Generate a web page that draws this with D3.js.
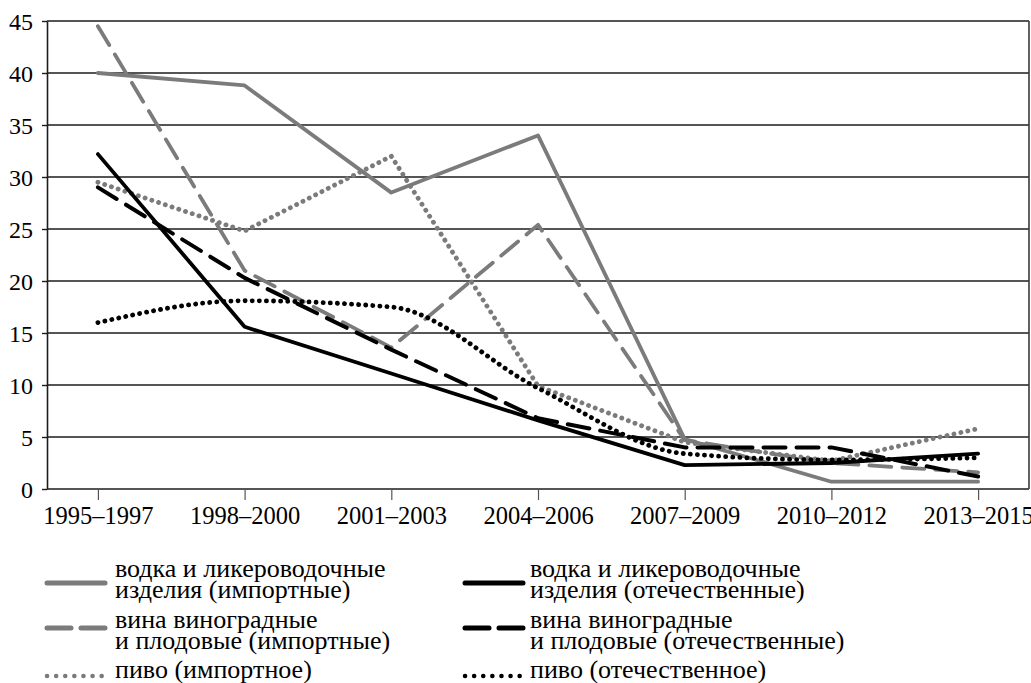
<!DOCTYPE html>
<html>
<head>
<meta charset="utf-8">
<script src="https://cdn.jsdelivr.net/npm/d3@7"></script>
<style>
  html, body { margin: 0; padding: 0; background: #fff; }
  svg { display: block; }
</style>
</head>
<body>
<svg id="chart" width="1031" height="683"></svg>
<script>
const categories = ["1995–1997", "1998–2000", "2001–2003", "2004–2006", "2007–2009", "2010–2012", "2013–2015"];
const yTicks = [0, 5, 10, 15, 20, 25, 30, 35, 40, 45];

const vodkaImported = [40.0, 38.8, 28.5, 34.0, 4.8, 0.7, 0.7];
const vodkaDomestic = [32.2, 15.6, 11.1, 6.6, 2.3, 2.5, 3.4];
const wineImported  = [44.5, 21.0, 13.6, 25.4, 4.7, 2.5, 1.6];
const wineDomestic  = [29.0, 20.3, 13.4, 6.8, 4.0, 4.0, 1.2];
const beerImported  = [29.5, 24.8, 32.0, 9.9, 4.5, 2.7, 5.8];
const beerDomestic  = [16.0, 18.1, 17.5, 9.7, 3.4, 2.8, 3.0];

const seriesNames = [
  ["водка и ликероводочные", "изделия (импортные)"],
  ["водка и ликероводочные", "изделия (отечественные)"],
  ["вина виноградные", "и плодовые (импортные)"],
  ["вина виноградные", "и плодовые (отечественные)"],
  ["пиво (импортное)"],
  ["пиво (отечественное)"]
];

const GRAY = "#7b7b7b", BLACK = "#000";
const FONT = "Liberation Serif";
const styles = [
  {color: GRAY,  dash: null,     width: 3.8, smooth: false},
  {color: BLACK, dash: null,     width: 3.8, smooth: false},
  {color: GRAY,  dash: "22,11",  width: 3.8, smooth: false},
  {color: BLACK, dash: "22,11",  width: 4.0, smooth: false},
  {color: GRAY,  dash: "0.1,7",  width: 4.8, smooth: false},
  {color: BLACK, dash: "0.1,7",  width: 4.8, smooth: true}
];
const seriesValues = [vodkaImported, vodkaDomestic, wineImported, wineDomestic, beerImported, beerDomestic];

const svg = d3.select("#chart");
const pLeft = 47, pRight = 1029, pTop = 21, pBottom = 489;

const x = d3.scalePoint().domain(categories).range([pLeft, pRight]).padding(0.347);
const y = d3.scaleLinear().domain([0, 45]).range([pBottom, pTop]);

// grid lines
svg.append("g").selectAll("line").data(yTicks).join("line")
  .attr("x1", pLeft).attr("x2", pRight)
  .attr("y1", d => y(d)).attr("y2", d => y(d))
  .attr("stroke", "#1c1c1c").attr("stroke-width", 1.6);

// right border
svg.append("line").attr("x1", pRight).attr("x2", pRight).attr("y1", pTop).attr("y2", pBottom)
  .attr("stroke", "#3a3a3a").attr("stroke-width", 1.6);

// y axis
const yAxis = svg.append("g").attr("transform", `translate(${pLeft},0)`)
  .call(d3.axisLeft(y).tickValues(yTicks).tickSize(5).tickPadding(9).tickSizeOuter(0));
yAxis.attr("font-family", FONT).attr("font-size", 24);
yAxis.select(".domain").attr("stroke", "#1c1c1c").attr("stroke-width", 1.6);
yAxis.selectAll(".tick line").attr("stroke", "#1c1c1c").attr("stroke-width", 1.4);
yAxis.selectAll(".tick text").attr("fill", "#000").attr("dy", "0.34em");

// x axis
const xAxis = svg.append("g").attr("transform", `translate(0,${pBottom})`)
  .call(d3.axisBottom(x).tickSize(11).tickPadding(7).tickSizeOuter(0));
xAxis.attr("font-family", FONT).attr("font-size", 24.5);
xAxis.select(".domain").remove();
xAxis.selectAll(".tick line").attr("stroke", "#555").attr("stroke-width", 1.2);
xAxis.selectAll(".tick text").attr("fill", "#000");

// lines
const order = [0, 2, 4, 1, 3, 5];
order.forEach(i => {
  const st = styles[i];
  const line = d3.line()
    .x((d, j) => x(categories[j]))
    .y(d => y(d))
    .curve(st.smooth ? d3.curveMonotoneX : d3.curveLinear);
  svg.append("path")
    .datum(seriesValues[i])
    .attr("d", line)
    .attr("fill", "none")
    .attr("stroke", st.color)
    .attr("stroke-width", st.width)
    .attr("stroke-linecap", "round")
    .attr("stroke-linejoin", "round")
    .attr("stroke-dasharray", st.dash);
});

// legend
const legendPos = [
  {sx: 45, tx: 115, sy: 583, ty: 577},
  {sx: 463, tx: 530, sy: 583, ty: 577},
  {sx: 45, tx: 115, sy: 628, ty: 628},
  {sx: 463, tx: 530, sy: 628, ty: 628},
  {sx: 45, tx: 115, sy: 676, ty: 678},
  {sx: 463, tx: 530, sy: 676, ty: 678}
];
const legendDash = [null, null, "24,10", "24,10", "0.1,9", "0.1,9"];
legendPos.forEach((p, i) => {
  const st = styles[i];
  const g = svg.append("g");
  g.append("line")
    .attr("x1", p.sx + 2).attr("x2", p.sx + 60)
    .attr("y1", p.sy).attr("y2", p.sy)
    .attr("stroke", st.color).attr("stroke-width", legendDash[i] && legendDash[i].startsWith("0.1") ? 4.5 : 5)
    .attr("stroke-linecap", "round")
    .attr("stroke-dasharray", legendDash[i]);
  const t = g.append("text").attr("x", p.tx).attr("y", p.ty)
    .attr("font-family", FONT).attr("font-size", 26).attr("fill", "#000");
  seriesNames[i].forEach((s, k) => {
    t.append("tspan").attr("x", p.tx).attr("dy", k === 0 ? 0 : 20.5).text(s);
  });
});
</script>
</body>
</html>
